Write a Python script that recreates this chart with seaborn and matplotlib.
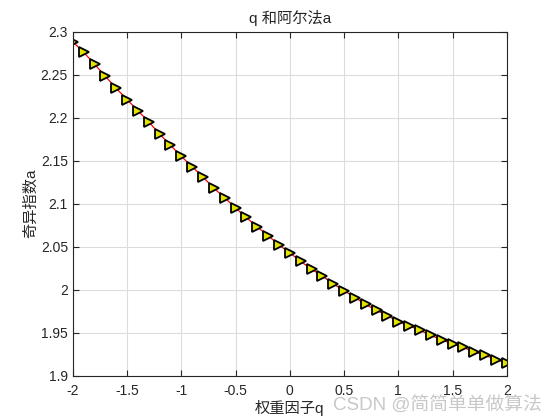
import matplotlib
matplotlib.use('Agg')
import matplotlib.pyplot as plt
from matplotlib.ticker import FuncFormatter
import seaborn as sns

# weight factor q and singularity exponent a
q = [-2.0, -1.9, -1.8, -1.7, -1.6, -1.5, -1.4, -1.3, -1.2, -1.1,
     -1.0, -0.9, -0.8, -0.7, -0.6, -0.5, -0.4, -0.3, -0.2, -0.1,
     0.0, 0.1, 0.2, 0.3, 0.4, 0.5, 0.6, 0.7, 0.8, 0.9,
     1.0, 1.1, 1.2, 1.3, 1.4, 1.5, 1.6, 1.7, 1.8, 1.9, 2.0]
a = [2.288, 2.276, 2.262, 2.248, 2.234, 2.221, 2.208, 2.195, 2.181, 2.168,
     2.155, 2.143, 2.131, 2.118, 2.107, 2.095, 2.084, 2.073, 2.063, 2.052,
     2.043, 2.033, 2.024, 2.016, 2.007, 1.999, 1.991, 1.983, 1.976, 1.970,
     1.963, 1.958, 1.953, 1.947, 1.942, 1.937, 1.933, 1.928, 1.924, 1.919,
     1.915]
x_ticks = [-2, -1.5, -1, -0.5, 0, 0.5, 1, 1.5, 2]
y_ticks = [1.9, 1.95, 2.0, 2.05, 2.1, 2.15, 2.2, 2.25, 2.3]

sns.set_style('white')
plt.rcParams['font.family'] = ['Liberation Sans', 'Noto Sans CJK SC', 'DejaVu Sans']

fig = plt.figure(figsize=(5.6, 4.2), dpi=100)
ax = fig.add_axes([0.13, 0.105, 0.775, 0.82])

sns.lineplot(x=q, y=a, ax=ax, color='red', linewidth=0.9,
             marker='>', markersize=7.5, markerfacecolor='#e3e300',
             markeredgecolor='black', markeredgewidth=1.3)

ax.set_xlim(-2, 2)
ax.set_ylim(1.9, 2.3)
ax.set_xticks(x_ticks)
ax.set_yticks(y_ticks)
ax.xaxis.set_major_formatter(FuncFormatter(lambda v, p: '%g' % v))
ax.yaxis.set_major_formatter(FuncFormatter(lambda v, p: '%g' % round(v, 2)))
ax.grid(True, color='#dcdcdc', linewidth=0.8)
ax.tick_params(direction='in', length=4, width=0.8, labelsize=10,
               colors='#262626', top=True, right=True, bottom=True, left=True,
               labeltop=False, labelright=False)
ax.tick_params(axis='x', pad=6)
for s in ax.spines.values():
    s.set_color('#262626')
    s.set_linewidth(0.8)

ax.set_title('q 和阿尔法a', fontsize=11, color='#262626', pad=6)
ax.set_xlabel('权重因子q', fontsize=11, color='#262626', labelpad=1)
ax.set_ylabel('奇异指数a', fontsize=11, color='#262626', labelpad=2)

fig.text(0.968, 0.012, 'CSDN @简简单单做算法', ha='right', va='bottom',
         fontsize=13.5, color='#c8c8c8')

fig.savefig('out.png', dpi=100, facecolor='white')
